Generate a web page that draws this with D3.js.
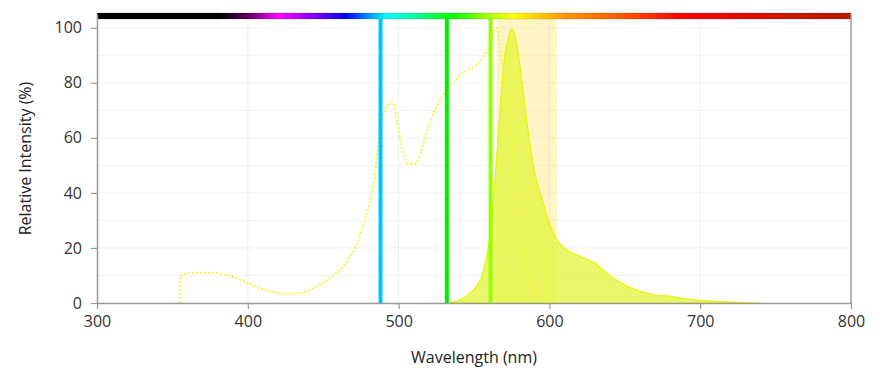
<!DOCTYPE html>
<html>
<head>
<meta charset="utf-8">
<script src="https://cdn.jsdelivr.net/npm/d3@7"></script>
<style>
  body { margin: 0; background: #fff; }
  svg { display: block; font-family: "Open Sans", "DejaVu Sans", sans-serif; }
</style>
</head>
<body>
<svg id="chart"></svg>
<script>
// excitation spectrum (dotted)
const exWl  = [355, 355, 365, 375, 385, 395, 405, 415, 425, 435, 445, 455, 465, 472, 478, 483, 488, 492, 496, 499, 503, 507, 511, 516, 521, 526, 532, 537, 542, 547, 552, 557, 561, 565, 568, 571, 574, 577, 580, 585, 590, 595, 600];
const exVal = [0, 10, 11, 11, 10.3, 8.5, 6, 4.3, 3.3, 3.6, 5.8, 9.3, 14.5, 21, 31, 42, 64, 71, 73, 66, 55, 50.5, 50.5, 57, 66, 72, 78, 80.5, 83.5, 85, 86.5, 90, 94, 100, 89, 78, 66, 45, 30, 13, 5, 2, 0];

// emission spectrum (filled)
const emWl  = [530, 535, 540, 545, 550, 555, 558, 561, 564, 567, 570, 573, 575, 578, 580, 585, 590, 595, 600, 605, 610, 620, 630, 640, 650, 660, 670, 680, 690, 700, 710, 720, 740];
const emVal = [0, 0.3, 1, 2.5, 5, 9.5, 16, 26, 45, 68, 88, 97, 99.5, 95, 88, 66, 48, 38, 29, 23, 20, 17, 14.5, 10, 6.5, 4.2, 3, 2.5, 1.5, 1, 0.6, 0.3, 0];

// laser lines
const laserWl = [488, 532, 561];
const laserColors = ["#00c6ff", "#00ee00", "#99ff00"];

// emission filter band
const bandWl = [565, 605];

// spectrum bar
const barWl = [300, 380, 400, 420, 440, 465, 492, 515, 535, 560, 576, 610, 650, 690, 800];
const barColors = ["#000000", "#000000", "#5a005a", "#ff00ff", "#9900ff", "#0000ff", "#00ffff", "#00ff80", "#00ff00", "#aaff00", "#ffff00", "#ff9900", "#ff5000", "#ff0000", "#b02000"];

const xTicks = [300, 400, 500, 600, 700, 800];
const yTicks = [0, 20, 40, 60, 80, 100];

const width = 880, height = 376;
const margin = { top: 14, right: 29, bottom: 73, left: 97 };

const svg = d3.select("#chart").attr("width", width).attr("height", height);

const x = d3.scaleLinear().domain([300, 800]).range([margin.left, width - margin.right]);
const y = d3.scaleLinear().domain([0, 105]).range([height - margin.bottom, margin.top]);

// gridlines
svg.append("g")
  .selectAll("line")
  .data(d3.range(10, 101, 10))
  .join("line")
  .attr("x1", x(300)).attr("x2", x(800))
  .attr("y1", d => y(d)).attr("y2", d => y(d))
  .attr("stroke", "#f1f1f1");

svg.append("g")
  .selectAll("line")
  .data(xTicks.slice(1, -1))
  .join("line")
  .attr("x1", d => x(d)).attr("x2", d => x(d))
  .attr("y1", y(0)).attr("y2", y(105))
  .attr("stroke", "#eeeeee");

// filter band
svg.append("rect")
  .attr("x", x(bandWl[0]))
  .attr("width", x(bandWl[1]) - x(bandWl[0]))
  .attr("y", y(103.5))
  .attr("height", y(0) - y(103.5))
  .attr("fill", "#ffe680")
  .attr("opacity", 0.45);

// emission area
const emData = emWl.map((w, i) => [w, emVal[i]]);
svg.append("path")
  .datum(emData)
  .attr("d", d3.area().x(d => x(d[0])).y0(y(0)).y1(d => y(d[1])).curve(d3.curveMonotoneX))
  .attr("fill", "#e0f530")
  .attr("fill-opacity", 0.72)
  .attr("stroke", "#e8f500")
  .attr("stroke-width", 1.2);

// excitation dotted line
const exData = exWl.map((w, i) => [w, exVal[i]]);
svg.append("path")
  .datum(exData)
  .attr("d", d3.line().x(d => x(d[0])).y(d => y(d[1])).curve(d3.curveMonotoneX))
  .attr("fill", "none")
  .attr("stroke", "#f4f738")
  .attr("stroke-width", 2)
  .attr("stroke-dasharray", "2,2");

// laser lines
svg.append("g")
  .selectAll("line")
  .data(laserWl)
  .join("line")
  .attr("x1", d => x(d)).attr("x2", d => x(d))
  .attr("y1", y(0)).attr("y2", y(105))
  .attr("stroke", (d, i) => laserColors[i])
  .attr("stroke-width", 4);

// spectrum colour bar
const grad = svg.append("defs").append("linearGradient")
  .attr("id", "spec")
  .attr("gradientUnits", "userSpaceOnUse")
  .attr("x1", x(300)).attr("x2", x(800))
  .attr("y1", 0).attr("y2", 0);
grad.selectAll("stop")
  .data(barWl)
  .join("stop")
  .attr("offset", d => (d - 300) / 500)
  .attr("stop-color", (d, i) => barColors[i]);

svg.append("rect")
  .attr("x", x(300)).attr("width", x(800) - x(300))
  .attr("y", 13).attr("height", 6)
  .attr("fill", "url(#spec)")
  .attr("stroke", "rgba(0,0,0,0.15)")
  .attr("stroke-width", 0.8);

// right border
svg.append("line")
  .attr("x1", x(800)).attr("x2", x(800))
  .attr("y1", y(105)).attr("y2", y(0))
  .attr("stroke", "#999").attr("stroke-width", 1.5);

// axes
const xAxis = svg.append("g")
  .attr("transform", `translate(0,${y(0)})`)
  .call(d3.axisBottom(x).tickValues(xTicks).tickSize(6).tickPadding(7).tickSizeOuter(0));

const yAxis = svg.append("g")
  .attr("transform", `translate(${x(300)},0)`)
  .call(d3.axisLeft(y).tickValues(yTicks).tickSize(6).tickPadding(9).tickSizeOuter(0));

[xAxis, yAxis].forEach(a => {
  a.select(".domain").attr("stroke", "#999").attr("stroke-width", 1.5);
  a.selectAll(".tick line").attr("stroke", "#999").attr("stroke-width", 1.2);
  a.selectAll(".tick text")
    .attr("fill", "#333")
    .style("font-size", "16px")
    .style("font-family", "'Open Sans', sans-serif");
});

// axis titles
svg.append("text")
  .attr("x", (x(300) + x(800)) / 2)
  .attr("y", 363)
  .attr("text-anchor", "middle")
  .attr("fill", "#222")
  .style("font-size", "16px")
  .text("Wavelength (nm)");

svg.append("text")
  .attr("transform", `translate(31,${(y(0) + y(105)) / 2}) rotate(-90)`)
  .attr("text-anchor", "middle")
  .attr("fill", "#222")
  .style("font-size", "16px")
  .text("Relative Intensity (%)");
</script>
</body>
</html>
